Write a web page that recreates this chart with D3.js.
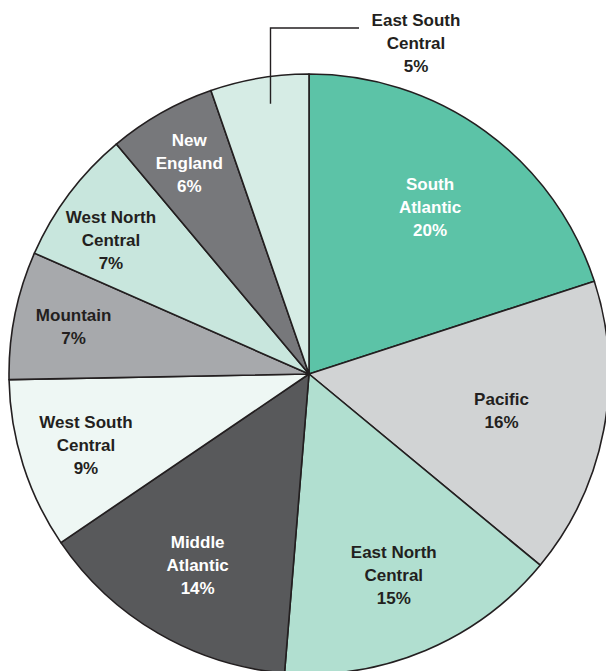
<!DOCTYPE html>
<html>
<head>
<meta charset="utf-8">
<script src="https://cdn.jsdelivr.net/npm/d3@7"></script>
<style>
  body { margin: 0; background: #fff; }
  svg { display: block; }
  text { font-family: "Liberation Sans", Arial, sans-serif; font-weight: bold; font-size: 17px; }
</style>
</head>
<body>
<svg class="regionPie" width="606" height="671"></svg>
<script>
// regions clockwise from 12 o'clock
let regions = [['South', 'Atlantic'], ['Pacific'], ['East North', 'Central'], ['Middle', 'Atlantic'],
  ['West South', 'Central'], ['Mountain'], ['West North', 'Central'], ['New', 'England'], ['East South', 'Central']];
let shares = [20.0, 16.0, 15.3, 14.2, 9.2, 6.9, 7.3, 5.8, 5.3];
let shareLabels = ['20%', '16%', '15%', '14%', '9%', '7%', '7%', '6%', '5%'];
let fills = ['#5cc3a7', '#d1d3d4', '#b1dfd0', '#58595b', '#eef7f4', '#a7a9ac', '#c8e6dd', '#77787b', '#d6ece5'];
let textCols = ['#fff', '#231f20', '#231f20', '#fff', '#231f20', '#231f20', '#231f20', '#fff', '#231f20'];

let cx = 309, cy = 374, R = 300, lineH = 23;

let SVG = d3.select('svg.regionPie');

let data = regions.map((r, i) => ({ name: r, value: shares[i], label: shareLabels[i], fill: fills[i], txt: textCols[i] }));

let pie = d3.pie().sort(null).value(d => d.value);
let arcs = pie(data);

let arc = d3.arc().innerRadius(0).outerRadius(R);

let g = SVG.append('g').attr('transform', `translate(${cx},${cy})`);

g.selectAll('path.slice')
  .data(arcs)
  .enter()
  .append('path')
  .attr('class', 'slice')
  .attr('d', arc)
  .style('fill', d => d.data.fill)
  .style('stroke', '#231f20')
  .style('stroke-width', '1.6px')
  .style('stroke-linejoin', 'round');

// labels inside; smaller slices are pushed further out
let inside = arcs.slice(0, arcs.length - 1);
let labelG = g.selectAll('g.lbl')
  .data(inside)
  .enter()
  .append('g')
  .attr('class', 'lbl')
  .attr('transform', d => {
    let r = 258 - 2.6 * d.data.value;
    if (d.index === 1) r = 196;
    let a = (d.startAngle + d.endAngle) / 2;
    if (d.index === 6) a -= 0.05;
    return `translate(${r * Math.sin(a)},${-r * Math.cos(a)})`;
  });

labelG.each(function(d){
  let lines = d.data.name.concat([d.data.label]);
  let y0 = -(lines.length - 1) * lineH / 2;
  d3.select(this).selectAll('text')
    .data(lines)
    .enter()
    .append('text')
    .attr('y', (t, i) => y0 + i * lineH)
    .attr('dy', '0.35em')
    .style('text-anchor', 'middle')
    .style('fill', d.data.txt)
    .text(t => t);
});

// callout for the thin last slice
let last = arcs[arcs.length - 1];
let midA = (last.startAngle + last.endAngle) / 2 + 0.025;
let lx = cx + 0.91 * R * Math.sin(midA);
let ly = cy - 0.91 * R * Math.cos(midA);
SVG.append('path')
  .attr('d', `M${lx},${ly}V28H359`)
  .style('fill', 'none')
  .style('stroke', '#231f20')
  .style('stroke-width', '1.4px');

let calloutLines = last.data.name.concat([last.data.label]);
SVG.append('g')
  .attr('transform', 'translate(416,20)')
  .selectAll('text')
  .data(calloutLines)
  .enter()
  .append('text')
  .attr('y', (t, i) => i * lineH)
  .attr('dy', '0.35em')
  .style('text-anchor', 'middle')
  .style('fill', '#231f20')
  .text(t => t);
</script>
</body>
</html>
